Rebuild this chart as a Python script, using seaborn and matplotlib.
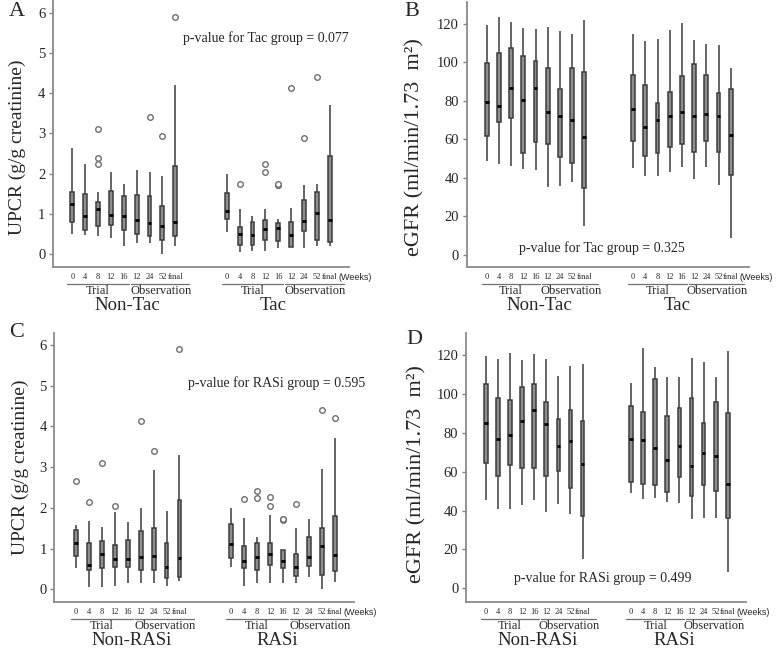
import matplotlib
matplotlib.use('Agg')
import matplotlib.pyplot as plt
import matplotlib.transforms as mtransforms
import pandas as pd
import seaborn as sns

weeks = ['0', '4', '8', '12', '16', '12', '24', '52', 'final']

# each row: lower whisker, q1, median, q3, upper whisker
upcr_nontac = [(0.50, 0.78, 1.23, 1.55, 2.65), (0.47, 0.60, 0.95, 1.48, 2.23), (0.45, 0.70, 1.12, 1.28, 1.55),
               (0.40, 0.72, 0.97, 1.57, 2.05), (0.20, 0.60, 0.93, 1.43, 1.75), (0.28, 0.50, 0.83, 1.47, 2.10),
               (0.27, 0.45, 0.77, 1.45, 2.03), (0.00, 0.35, 0.70, 1.20, 1.93), (0.20, 0.45, 0.80, 2.18, 4.22)]
upcr_tac = [(0.55, 0.87, 1.06, 1.52, 1.98), (0.05, 0.22, 0.50, 0.68, 1.12), (0.08, 0.22, 0.48, 0.80, 0.95),
            (0.08, 0.35, 0.62, 0.85, 1.12), (0.15, 0.32, 0.65, 0.77, 0.87), (0.18, 0.18, 0.47, 0.78, 1.15),
            (0.15, 0.57, 0.82, 1.33, 1.72), (0.20, 0.35, 1.02, 1.55, 1.73), (0.20, 0.30, 0.85, 2.45, 3.70)]
# outliers: (week index, value)
upcr_nontac_out = [(2, 2.25), (2, 2.40), (2, 3.10), (6, 3.40), (7, 2.93), (8, 5.90)]
upcr_tac_out = [(1, 1.75), (3, 2.03), (3, 2.25), (4, 1.71), (4, 1.72), (4, 1.73), (5, 4.13), (6, 2.90), (7, 4.40)]

egfr_nontac = [(48.8, 62.0, 79.3, 99.9, 119.5), (47.1, 69.3, 77.4, 104.8, 123.5), (46.4, 71.0, 86.9, 107.4, 120.9),
               (44.5, 52.8, 80.5, 103.4, 117.7), (44.0, 58.9, 86.6, 100.8, 117.2), (35.5, 57.8, 74.5, 97.0, 118.6),
               (36.0, 50.7, 72.4, 86.0, 116.5), (38.1, 47.6, 70.1, 97.0, 114.6), (15.2, 34.6, 61.1, 94.9, 122.0)]
egfr_tac = [(45.4, 59.4, 75.8, 93.5, 114.8), (41.2, 51.6, 66.7, 88.1, 111.3), (41.0, 52.8, 70.1, 79.1, 112.2),
            (42.9, 55.9, 72.4, 84.5, 116.7), (45.7, 57.7, 74.1, 93.0, 120.7), (39.5, 53.3, 72.4, 99.0, 111.7),
            (45.5, 59.2, 73.2, 93.5, 109.4), (36.2, 53.3, 72.4, 84.3, 109.1), (8.7, 41.6, 62.3, 86.2, 97.0)]

upcr_nonrasi = [(0.52, 0.83, 1.15, 1.46, 1.58), (0.07, 0.49, 0.60, 1.15, 1.68), (0.07, 0.52, 0.86, 1.19, 1.54),
                (0.09, 0.54, 0.74, 1.09, 1.91), (0.15, 0.56, 0.74, 1.21, 1.66), (0.17, 0.47, 0.79, 1.44, 1.99),
                (0.15, 0.47, 0.82, 1.52, 2.93), (0.09, 0.29, 0.54, 1.13, 1.93), (0.20, 0.31, 0.76, 2.19, 3.30)]
upcr_rasi = [(0.56, 0.78, 1.11, 1.60, 2.00), (0.09, 0.52, 0.70, 1.07, 1.76), (0.15, 0.47, 0.79, 1.13, 1.28),
             (0.17, 0.60, 0.88, 1.15, 1.82), (0.15, 0.52, 0.70, 0.97, 0.97), (0.17, 0.34, 0.54, 0.88, 1.50),
             (0.31, 0.58, 0.79, 1.29, 1.73), (0.00, 0.35, 1.07, 1.50, 2.95), (0.19, 0.45, 0.84, 1.80, 3.71)]
upcr_nonrasi_out = [(0, 2.65), (1, 2.15), (2, 3.10), (3, 2.05), (5, 4.13), (6, 3.40), (8, 5.90)]
upcr_rasi_out = [(1, 2.22), (2, 2.24), (2, 2.41), (3, 2.05), (3, 2.27), (4, 1.71), (4, 1.72), (4, 1.73),
                 (5, 2.09), (7, 4.40), (8, 4.20)]

egfr_nonrasi = [(45.3, 64.4, 84.8, 105.1, 119.5), (40.8, 57.9, 76.8, 98.1, 118.1), (40.8, 63.4, 79.0, 96.8, 121.2),
                (42.7, 61.7, 86.2, 103.4, 117.4), (45.6, 61.7, 91.5, 105.3, 120.5), (39.3, 57.6, 84.3, 95.7, 118.1),
                (43.6, 60.5, 73.2, 87.0, 109.4), (38.1, 51.6, 75.6, 91.6, 114.5), (14.9, 37.4, 64.1, 86.3, 115.2)]
egfr_rasi = [(49.1, 54.7, 76.6, 93.7, 105.5), (46.0, 53.8, 76.1, 90.6, 123.4), (46.5, 53.0, 72.0, 107.5, 114.0),
             (44.4, 49.7, 65.8, 88.4, 108.5), (43.9, 57.1, 73.3, 93.0, 108.9), (35.4, 47.4, 63.1, 97.8, 118.3),
             (36.1, 53.2, 69.7, 84.8, 116.6), (36.1, 50.3, 68.0, 95.7, 108.9), (8.3, 36.1, 53.8, 90.1, 121.9)]

GAP = 12  # second group starts at this x position

sns.set_style('ticks')
plt.rcParams['font.family'] = 'serif'
plt.rcParams['font.serif'] = ['Liberation Serif', 'DejaVu Serif']

fig = plt.figure(figsize=(7.8, 6.48), dpi=100)


def px_rect(left, top, right, bottom):
    return [left / 780, 1 - bottom / 648, (right - left) / 780, (bottom - top) / 648]


def draw_panel(ax, stats, outliers, names, ylim, yticks, xlim, ylabel, ylabel_pos, ylabel_size, ptext, ppos):
    rows = []
    for g, group in enumerate(stats):
        for i, five in enumerate(group):
            for v in five:
                rows.append({'pos': i + g * GAP, 'value': v})
    df = pd.DataFrame(rows)
    sns.boxplot(data=df, x='pos', y='value', native_scale=True, whis=(0, 100), width=0.3,
                color='#8e8e8e', linecolor='#3c3c3c', linewidth=1.1, showcaps=False, fliersize=0,
                medianprops=dict(color='black', linewidth=2), ax=ax)

    out_rows = []
    for g, group in enumerate(outliers):
        for i, v in group:
            out_rows.append({'pos': i + g * GAP, 'value': v})
    if out_rows:
        sns.scatterplot(data=pd.DataFrame(out_rows), x='pos', y='value', marker='o', s=16,
                        color='white', edgecolor='#6e6e6e', linewidth=1.0, zorder=4, ax=ax)

    ax.set_xlim(*xlim)
    ax.set_ylim(*ylim)
    ax.set_yticks(yticks)
    ax.set_xlabel('')
    ax.set_ylabel('')
    pos = list(range(9)) + [i + GAP for i in range(9)]
    ax.set_xticks(pos)
    ax.set_xticklabels(weeks * 2, fontsize=6)
    ax.tick_params(axis='x', length=0, pad=4.5)
    ax.tick_params(axis='y', length=3, width=1, color='#808080', labelsize=10.5, pad=2.5)
    sns.despine(ax=ax)
    for s in ('left', 'bottom'):
        ax.spines[s].set_color('#8a8a8a')
        ax.spines[s].set_linewidth(1.3)

    def below(dy):
        return mtransforms.offset_copy(ax.get_xaxis_transform(), fig=fig, y=-dy, units='dots')

    for g, name in enumerate(names):
        o = g * GAP
        for x1, x2 in ((-0.4, 4.4), (4.55, 9.1)):
            ax.plot([x1 + o, x2 + o], [0, 0], transform=below(17), color='#707070', lw=0.9, clip_on=False)
        ax.text(o + 2.0, 0, 'Trial', transform=below(24.5), ha='center', va='center', fontsize=9)
        ax.text(o + 6.9, 0, 'Observation', transform=below(24.5), ha='center', va='center', fontsize=9)
        ax.text(o + (4.3 if g == 0 else 3.6), 0, name, transform=below(39), ha='center', va='center',
                fontsize=13.5)
    ax.annotate('(Weeks)', xy=(8 + GAP, 0), xycoords=ax.get_xaxis_transform(), xytext=(6.5, -7.5),
                textcoords='offset points', ha='left', va='center', fontsize=6.5,
                family='Liberation Sans', annotation_clip=False)

    ax.text(ylabel_pos[0], ylabel_pos[1], ylabel, transform=ax.transAxes, rotation=90,
            ha='center', va='center', fontsize=ylabel_size)
    ax.text(ppos[0], ppos[1], ptext, ha='center', va='center', fontsize=10)


axA = fig.add_axes(px_rect(53, 0, 349, 267))
draw_panel(axA, [upcr_nontac, upcr_tac], [upcr_nontac_out, upcr_tac_out], ['Non-Tac', 'Tac'],
           (-0.33, 6.33), range(0, 7), (-1.5, 21.5), 'UPCR (g/g creatinine)', (-0.122, 0.45), 14,
           'p-value for Tac group = 0.077', (15.0, 5.38))

axB = fig.add_axes(px_rect(466.7, 2, 749, 266.7))
draw_panel(axB, [egfr_nontac, egfr_tac], [[], []], ['Non-Tac', 'Tac'],
           (-6.1, 131.4), range(0, 121, 20), (-1.64, 21.5), 'eGFR (ml/min/1.73  m\u00b2)', (-0.183, 0.452), 16,
           'p-value for Tac group = 0.325', (9.4, 3.5))

axC = fig.add_axes(px_rect(54.3, 332.7, 354, 601.7))
draw_panel(axC, [upcr_nonrasi, upcr_rasi], [upcr_nonrasi_out, upcr_rasi_out], ['Non-RASi', 'RASi'],
           (-0.30, 6.30), range(0, 7), (-1.68, 21.5), 'UPCR (g/g creatinine)', (-0.114, 0.5), 14,
           'p-value for RASi group = 0.595', (15.5, 5.07))

axD = fig.add_axes(px_rect(466, 332.7, 746, 601.7))
draw_panel(axD, [egfr_nonrasi, egfr_rasi], [[], []], ['Non-RASi', 'RASi'],
           (-6.9, 131.5), range(0, 121, 20), (-1.63, 21.5), 'eGFR (ml/min/1.73  m\u00b2)', (-0.175, 0.475), 16,
           'p-value for RASi group = 0.499', (9.7, 5.3))

for letter, (x, y) in zip('ABCD', [(17, 12), (412, 12), (17, 333), (414, 340)]):
    fig.text(x / 780, 1 - y / 648, letter, ha='center', va='center', fontsize=16)

fig.savefig('out.png', dpi=100)
